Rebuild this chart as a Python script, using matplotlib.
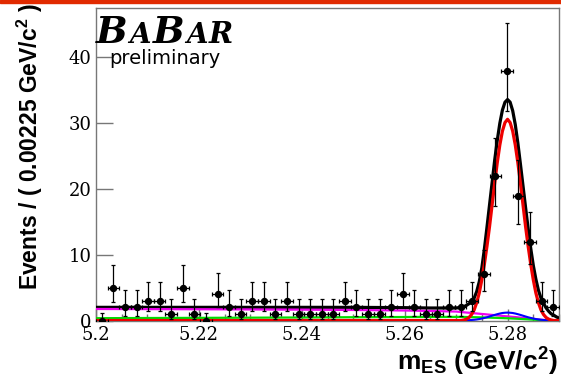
import numpy as np
import matplotlib
matplotlib.use("Agg")
import matplotlib.pyplot as plt
from matplotlib.patches import Rectangle
from matplotlib.text import Annotation
from matplotlib.ticker import MultipleLocator

plt.rcParams["mathtext.fontset"] = "custom"
plt.rcParams["mathtext.rm"] = "Liberation Sans:bold"
plt.rcParams["mathtext.bf"] = "Liberation Sans:bold"
plt.rcParams["mathtext.it"] = "Liberation Sans:bold"

# --- binned data: m_ES, 40 bins of 0.00225 GeV/c^2 from 5.20 ---
m_lo = 5.20
bin_w = 0.00225
counts = [0, 5, 2, 2, 3, 3, 1, 5, 1, 0,
          4, 2, 1, 3, 3, 1, 3, 1, 1, 1,
          1, 3, 2, 1, 1, 2, 4, 2, 1, 1,
          2, 2, 3, 7, 22, 38, 19, 12, 3, 2]
# asymmetric poisson errors
err_down = {0: 0.0, 1: 0.83, 2: 1.29, 3: 1.63, 4: 1.91, 5: 2.16, 7: 2.58,
            12: 3.46, 19: 4.35, 22: 4.66, 38: 6.14}
err_up = {0: 1.15, 1: 2.30, 2: 2.64, 3: 2.92, 4: 3.16, 5: 3.38, 7: 3.77,
          12: 4.55, 19: 5.43, 22: 5.76, 38: 7.21}

# --- fit curves ---
curve_m = [5.200, 5.210, 5.220, 5.230, 5.240, 5.250, 5.260, 5.265,
           5.2700, 5.2705, 5.2710, 5.2715, 5.2720, 5.2725, 5.2730, 5.2735, 5.2740, 5.2745,
           5.2750, 5.2755, 5.2760, 5.2765, 5.2770, 5.2775, 5.2780, 5.2785, 5.2790, 5.2795,
           5.2800, 5.2805, 5.2810, 5.2815, 5.2820, 5.2825, 5.2830, 5.2835, 5.2840, 5.2845,
           5.2850, 5.2855, 5.2860, 5.2865, 5.2870, 5.2875, 5.2880, 5.2885, 5.2890, 5.2895, 5.2900]
total = [2.0, 2.0, 2.0, 2.0, 2.0, 2.0, 1.95, 1.9,
         1.9, 1.95, 2.0, 2.1, 2.3, 2.55, 2.8, 3.4, 4.4, 5.9,
         8.0, 10.9, 14.2, 17.6, 21.0, 24.4, 27.4, 30.0, 32.0, 33.2,
         33.6, 33.2, 31.9, 29.8, 27.0, 23.8, 20.5, 17.2, 14.0, 11.0,
         8.4, 6.3, 4.6, 3.4, 2.6, 1.9, 1.4, 1.0, 0.8, 0.55, 0.35]
signal = [0, 0, 0, 0, 0, 0, 0, 0,
          0, 0, 0, 0.08, 0.2, 0.45, 0.9, 1.6, 2.7, 4.2,
          6.2, 8.6, 11.3, 14.3, 17.6, 20.9, 24.0, 26.7, 28.8, 30.1,
          30.6, 30.1, 28.8, 26.7, 24.0, 20.9, 17.6, 14.3, 11.3, 8.6,
          6.2, 4.2, 2.7, 1.6, 0.9, 0.45, 0.2, 0.08, 0, 0, 0]
continuum = [1.75, 1.73, 1.71, 1.68, 1.65, 1.60, 1.52, 1.45,
             1.36, 1.32, 1.29, 1.25, 1.21, 1.18, 1.14, 1.10, 1.07, 1.03,
             0.99, 0.96, 0.92, 0.88, 0.85, 0.81, 0.77, 0.74, 0.70, 0.66,
             0.63, 0.59, 0.55, 0.52, 0.48, 0.44, 0.40, 0.36, 0.32, 0.28,
             0.24, 0.20, 0.16, 0.12, 0.08, 0.05, 0.02, 0.0, 0.0, 0.0, 0.0]
bbbar = [0.35, 0.38, 0.40, 0.43, 0.46, 0.50, 0.53, 0.55,
         0.55, 0.55, 0.54, 0.54, 0.53, 0.52, 0.51, 0.50, 0.49, 0.48,
         0.47, 0.46, 0.45, 0.44, 0.42, 0.41, 0.40, 0.38, 0.37, 0.35,
         0.34, 0.32, 0.30, 0.28, 0.26, 0.24, 0.22, 0.20, 0.18, 0.15,
         0.13, 0.11, 0.08, 0.06, 0.04, 0.02, 0.01, 0.0, 0.0, 0.0, 0.0]
peaking = [0, 0, 0, 0, 0, 0, 0, 0,
           0.0, 0.01, 0.01, 0.02, 0.03, 0.05, 0.08, 0.11, 0.16, 0.22,
           0.30, 0.39, 0.49, 0.61, 0.73, 0.85, 0.96, 1.06, 1.14, 1.18,
           1.20, 1.18, 1.14, 1.06, 0.96, 0.85, 0.73, 0.61, 0.49, 0.39,
           0.30, 0.22, 0.16, 0.11, 0.08, 0.05, 0.03, 0.02, 0.01, 0.0, 0.0]

W, H = 561, 379
def fx(px):
    return px / W
def fy(py):
    return 1 - py / H

fig = plt.figure(figsize=(W / 100, H / 100), dpi=100)
fig.patches.append(Rectangle((0, fy(3.3)), 1, 3.3 / H, transform=fig.transFigure,
                             color="#e12a00", zorder=0))

ax = fig.add_axes([fx(96), fy(320.5), fx(559) - fx(96), fy(7.5) - fy(320.5)])

# curves
ax.plot(curve_m, total, color="black", lw=2.3, zorder=3)
ax.plot(curve_m, continuum, color="#ee00ee", lw=1.6, zorder=3)
ax.plot(curve_m, bbbar, color="#00dd00", lw=1.6, zorder=3)
ax.plot(curve_m, peaking, color="#0000ff", lw=1.5, zorder=3)
ax.plot(curve_m, signal, color="#ee0000", lw=2.3, zorder=4)

# data points
centers = m_lo + bin_w * (np.arange(len(counts)) + 0.5)
yerr = [[err_down[n] for n in counts], [err_up[n] for n in counts]]
ax.errorbar(centers, counts, yerr=yerr, xerr=bin_w / 2, fmt="o", ms=4.3,
            color="black", ecolor="black", elinewidth=0.9, capsize=1.5,
            capthick=0.9, zorder=5)

ax.set_xlim(5.20, 5.29)
ax.set_ylim(0, 47.6)

ax.xaxis.set_minor_locator(MultipleLocator(0.005))
ax.yaxis.set_major_locator(MultipleLocator(10))
ax.set_xticks([5.20, 5.22, 5.24, 5.26, 5.28])
ax.set_xticklabels(["5.2", "5.22", "5.24", "5.26", "5.28"])
ax.tick_params(axis="x", which="major", direction="in", length=9, width=1,
               color="#777777", pad=4, labelsize=13)
ax.tick_params(axis="x", which="minor", direction="in", length=5, width=1,
               color="#777777")
ax.tick_params(axis="y", which="major", direction="in", length=12, width=1,
               color="#777777", pad=3, labelsize=13)
for lab in ax.get_xticklabels() + ax.get_yticklabels():
    lab.set_fontfamily("DejaVu Serif")
# lift the "0" label a little so it clears "5.2"
ax.get_yticklabels()[0].set_verticalalignment("center_baseline")
for s in ax.spines.values():
    s.set_color("#777777")
    s.set_linewidth(1.0)

# axis titles
fig.text(fx(30), fy(147), "Events / ( 0.00225 GeV/c$^{2}$ )", rotation=90,
         ha="center", va="center", fontsize=16.5, fontweight="bold",
         family="Liberation Sans")
fig.text(fx(558), fy(371), "m$_{ES}$ (GeV/c$^{2}$)", ha="right",
         va="baseline", fontsize=19, fontweight="bold", family="Liberation Sans")

# BaBar logo: big/small caps, each letter placed right after the previous one
logo = [("B", 27), ("A", 20), ("B", 27), ("A", 20), ("R", 21)]
base_y = H - 43
prev = fig.text(fx(96), fy(43), logo[0][0], fontsize=logo[0][1], fontweight="bold",
                style="italic", family="DejaVu Serif", va="baseline")
for letter, size in logo[1:]:
    prev = fig.add_artist(Annotation(letter, xy=(1, base_y),
                                     xycoords=(prev, "figure pixels"),
                                     xytext=(1.2, 0), textcoords="offset points",
                                     fontsize=size, fontweight="bold", style="italic",
                                     family="DejaVu Serif", va="baseline", ha="left"))
fig.text(fx(109), fy(64), "preliminary", fontsize=14, family="DejaVu Sans",
         va="baseline")

fig.savefig("out.png", dpi=100)
